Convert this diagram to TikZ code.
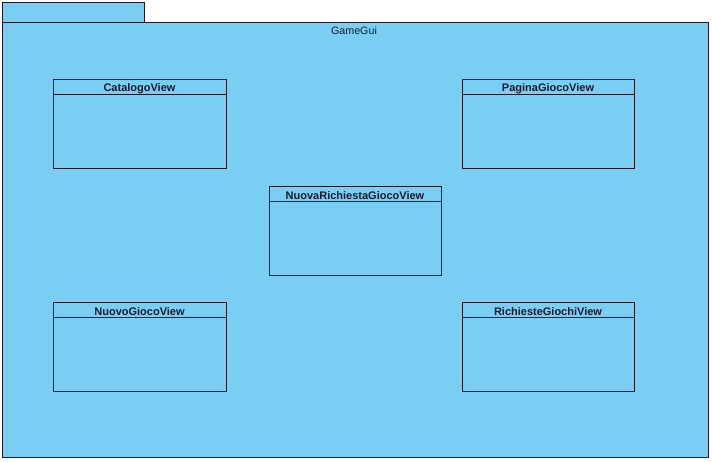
\documentclass[tikz,border=0pt]{standalone}
\usepackage{fontspec}
\setmainfont{Liberation Sans}
\definecolor{pkgblue}{HTML}{7ACEF4}
\definecolor{edge}{HTML}{1A1A2E}
\begin{document}
\begin{tikzpicture}[x=1pt,y=-1pt,
  pkg/.style={draw=edge,fill=pkgblue,line width=0.9pt},
  cls/.style={draw=edge,fill=pkgblue,line width=0.9pt},
  clsname/.style={font=\fontsize{11}{12}\selectfont\bfseries,text=edge},
  pkgname/.style={font=\fontsize{10.7}{12}\selectfont,text=edge}]
\useasboundingbox (0,0) rectangle (713,462);
% package
\draw[pkg] (2,2) rectangle (144,22);
\draw[pkg] (2,22) rectangle (708,457);
\node[pkgname] (pkglabel) at (354,31) {GameGui};
% classes
\newcommand{\umlclass}[6]{%
  \draw[cls] (#1,#2) rectangle (#3,#4);
  \draw[edge,line width=0.9pt] (#1,#2+15) -- (#3,#2+15);
  \node[clsname] (#5) at ({(#1+#3)/2},#2+9.5) {#6};}
\umlclass{53}{79}{226}{168}{catalogo}{CatalogoView}
\umlclass{462}{79}{634}{168}{pagina}{PaginaGiocoView}
\umlclass{269}{186}{441}{275}{nuovarich}{NuovaRichiestaGiocoView}
\umlclass{53}{302}{226}{391}{nuovogioco}{NuovoGiocoView}
\umlclass{462}{302}{634}{391}{richieste}{RichiesteGiochiView}
\end{tikzpicture}
\end{document}
